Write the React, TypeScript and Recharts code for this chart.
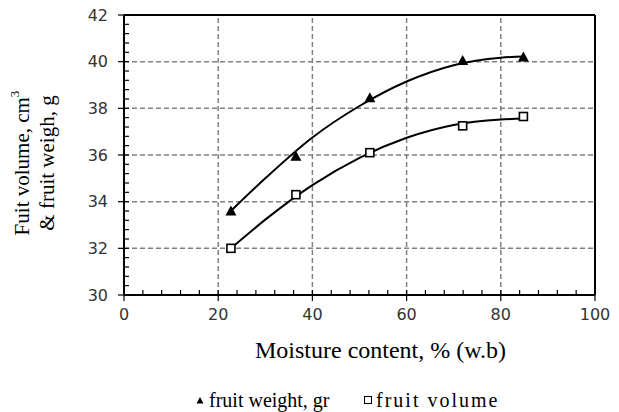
import React from 'react';
import { ComposedChart, Line, XAxis, YAxis, ReferenceLine } from 'recharts';

const moisture = [22.7, 36.5, 52.2, 71.9, 84.8];
const fruitWeight = [33.6, 35.95, 38.45, 40.05, 40.2];
const fruitVolume = [32.0, 34.3, 36.1, 37.25, 37.65];

// fitted trend curves at these moisture values
const trendMoisture = [22.7, 30, 40, 50, 60, 70, 80, 85];
const weightTrend = [33.6, 35.0, 36.75, 38.1, 39.15, 39.85, 40.17, 40.22];
const volumeTrend = [32.0, 33.23, 34.71, 35.88, 36.74, 37.29, 37.52, 37.56];

const seriesNames = ['fruit weight, gr', 'fruit volume'];

const xMajor = [0, 20, 40, 60, 80, 100];
const xTicks = [0, 4, 8, 12, 16, 20, 24, 28, 32, 36, 40, 44, 48, 52, 56, 60, 64, 68, 72, 76, 80, 84, 88, 92, 96, 100];
const yMajor = [30, 32, 34, 36, 38, 40, 42];
const yTicks = [
  30, 30.4, 30.8, 31.2, 31.6, 32, 32.4, 32.8, 33.2, 33.6, 34, 34.4, 34.8, 35.2, 35.6, 36, 36.4, 36.8, 37.2, 37.6,
  38, 38.4, 38.8, 39.2, 39.6, 40, 40.4, 40.8, 41.2, 41.6, 42,
];

const points = moisture.map((m, i) => ({ m, weight: fruitWeight[i], volume: fruitVolume[i] }));
const trends = trendMoisture.map((m, i) => ({ m, weight: weightTrend[i], volume: volumeTrend[i] }));

const TICK_FONT = '"DejaVu Sans", sans-serif';
const TITLE_FONT = '"Liberation Serif", "Times New Roman", serif';
const isMajor = (v: number, list: number[]) => list.some((t) => Math.abs(t - v) < 1e-6);

function XTick({ x, y, payload }: any) {
  const major = isMajor(payload.value, xMajor);
  if (!major) return <line x1={x} x2={x} y1={y} y2={y - 5} stroke="#000" strokeWidth={1.2} />;
  return (
    <g>
      <line x1={x} x2={x} y1={y - 5} y2={y + 6} stroke="#000" strokeWidth={1.2} />
      <text x={x} y={y + 19} textAnchor="middle" dominantBaseline="central" fontFamily={TICK_FONT} fontSize={16} fill="#333">
        {payload.value}
      </text>
    </g>
  );
}

function YTick({ x, y, payload }: any) {
  const major = isMajor(payload.value, yMajor);
  if (!major) return <line x1={x} x2={x + 5} y1={y} y2={y} stroke="#000" strokeWidth={1.2} />;
  return (
    <g>
      <line x1={x - 6} x2={x + 5} y1={y} y2={y} stroke="#000" strokeWidth={1.2} />
      <text x={x - 16} y={y} textAnchor="end" dominantBaseline="central" fontFamily={TICK_FONT} fontSize={16} fill="#333">
        {payload.value}
      </text>
    </g>
  );
}

function Triangle({ cx, cy }: any) {
  if (cx == null || cy == null) return null;
  return <path d={`M${cx},${cy - 5.5}L${cx + 5.5},${cy + 4.5}L${cx - 5.5},${cy + 4.5}Z`} fill="#000" />;
}

function Square({ cx, cy }: any) {
  if (cx == null || cy == null) return null;
  return <rect x={cx - 4} y={cy - 4} width={8} height={8} fill="#fff" stroke="#000" strokeWidth={1.6} />;
}

function XTitle({ viewBox }: any) {
  const cx = viewBox.x + viewBox.width / 2 + 21;
  return (
    <text x={cx} y={viewBox.y + 63} textAnchor="middle" fontFamily={TITLE_FONT} fontSize={24} fill="#000">
      Moisture content, % (w.b)
    </text>
  );
}

function YTitle({ viewBox }: any) {
  const cy = viewBox.y + viewBox.height / 2 + 8;
  return (
    <g fontFamily={TITLE_FONT} fontSize={21} fill="#000">
      <text x={22} y={cy} textAnchor="middle" dominantBaseline="central" transform={`rotate(-90 22 ${cy})`}>
        Fuit volume, cm
        <tspan fontSize={13} dy={-8}>3</tspan>
      </text>
      <text x={47} y={cy} textAnchor="middle" dominantBaseline="central" transform={`rotate(-90 47 ${cy})`}>
        &amp; fruit weigh, g
      </text>
    </g>
  );
}

export default function App() {
  const grid = { stroke: '#808080', strokeWidth: 1.5, strokeDasharray: '5 3' };
  return (
    <div style={{ position: 'absolute', left: 0, top: 0, width: 619, height: 412, background: '#fff' }}>
      <ComposedChart width={619} height={412} margin={{ top: 15, right: 24, bottom: 0, left: 0 }}>
        {xMajor.slice(1, -1).map((v) => (
          <ReferenceLine key={`gx${v}`} x={v} {...grid} />
        ))}
        {yMajor.slice(1, -1).map((v) => (
          <ReferenceLine key={`gy${v}`} y={v} {...grid} />
        ))}
        <ReferenceLine x={100} stroke="#000" strokeWidth={2} />
        <ReferenceLine y={42} stroke="#000" strokeWidth={2} />
        <XAxis
          dataKey="m"
          type="number"
          domain={[0, 100]}
          ticks={xTicks}
          interval={0}
          height={117}
          tickSize={0}
          tickMargin={0}
          tickLine={false}
          axisLine={{ stroke: '#000', strokeWidth: 2 }}
          tick={<XTick />}
          label={<XTitle />}
        />
        <YAxis
          type="number"
          domain={[30, 42]}
          ticks={yTicks}
          interval={0}
          width={124}
          tickSize={0}
          tickMargin={0}
          tickLine={false}
          axisLine={{ stroke: '#000', strokeWidth: 2 }}
          tick={<YTick />}
          label={<YTitle />}
        />
        <Line data={trends} dataKey="weight" type="monotone" stroke="#000" strokeWidth={2} dot={false} activeDot={false} legendType="none" isAnimationActive={false} />
        <Line data={trends} dataKey="volume" type="monotone" stroke="#000" strokeWidth={2} dot={false} activeDot={false} legendType="none" isAnimationActive={false} />
        <Line
          data={points}
          dataKey="weight"
          name={seriesNames[0]}
          stroke="none"
          dot={<Triangle />}
          activeDot={false}
          isAnimationActive={false}
        />
        <Line
          data={points}
          dataKey="volume"
          name={seriesNames[1]}
          stroke="none"
          dot={<Square />}
          activeDot={false}
          isAnimationActive={false}
        />
      </ComposedChart>
      <div
        style={{
          position: 'absolute',
          top: 389,
          left: 195,
          display: 'flex',
          fontFamily: TITLE_FONT,
          fontSize: 20,
          color: '#000',
          lineHeight: '22px',
        }}
      >
        <span style={{ display: 'flex', alignItems: 'center', width: 168 }}>
          <svg width={10} height={10} style={{ marginRight: 4 }}>
            <path d="M5,2L8.5,8.5L1.5,8.5Z" fill="#000" />
          </svg>
          {seriesNames[0]}
        </span>
        <span style={{ display: 'flex', alignItems: 'center', letterSpacing: 2 }}>
          <svg width={10} height={10} style={{ marginRight: 3 }}>
            <rect x={1.5} y={1.5} width={7} height={7} fill="#fff" stroke="#000" strokeWidth={1} />
          </svg>
          {seriesNames[1]}
        </span>
      </div>
    </div>
  );
}
